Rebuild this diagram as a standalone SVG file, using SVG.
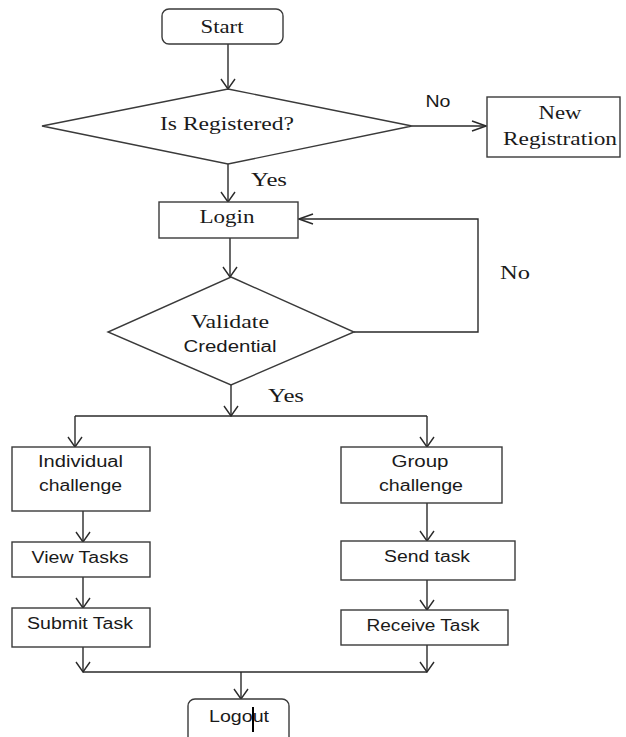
<svg xmlns="http://www.w3.org/2000/svg" width="626" height="737" viewBox="0 0 626 737">
<style>
.box{fill:#fff;stroke:#3a3a3a;stroke-width:1.4}
.ln{fill:none;stroke:#2a2a2a;stroke-width:1.4}
.serif{font-family:"Liberation Serif","Times New Roman",serif;font-size:19px;fill:#1a1a1a;text-anchor:middle}
.sans{font-family:"Liberation Sans",Arial,sans-serif;font-size:16px;fill:#1a1a1a;text-anchor:middle}
</style>
<defs>
<marker id="av" markerUnits="userSpaceOnUse" viewBox="-11 -8 12 16" refX="0" refY="0" markerWidth="12" markerHeight="16" orient="auto">
<path d="M-10,-7 L0,0 L-10,7" fill="none" stroke="#2a2a2a" stroke-width="1.4"/>
</marker>
<marker id="ah" markerUnits="userSpaceOnUse" viewBox="-15 -7 16 14" refX="0" refY="0" markerWidth="16" markerHeight="14" orient="auto">
<path d="M-14,-5 L0,0 L-14,5" fill="none" stroke="#2a2a2a" stroke-width="1.4"/>
</marker>
</defs>
<rect width="626" height="737" fill="#fff"/>
<g id="connectors">
<line class="ln" x1="228" y1="44" x2="228" y2="89" marker-end="url(#av)"/>
<line class="ln" x1="412" y1="126" x2="486" y2="126" marker-end="url(#ah)"/>
<line class="ln" x1="228" y1="164" x2="228" y2="202" marker-end="url(#av)"/>
<line class="ln" x1="230" y1="238" x2="230" y2="277" marker-end="url(#av)"/>
<polyline class="ln" points="354,332 478,332 478,219 299,219" marker-end="url(#ah)"/>
<line class="ln" x1="231" y1="385" x2="231" y2="416" marker-end="url(#av)"/>
<line class="ln" x1="75" y1="416" x2="427" y2="416"/>
<line class="ln" x1="75" y1="416" x2="75" y2="447" marker-end="url(#av)"/>
<line class="ln" x1="427" y1="416" x2="427" y2="447" marker-end="url(#av)"/>
<line class="ln" x1="83" y1="511" x2="83" y2="542" marker-end="url(#av)"/>
<line class="ln" x1="83" y1="577" x2="83" y2="608" marker-end="url(#av)"/>
<line class="ln" x1="427" y1="503" x2="427" y2="541" marker-end="url(#av)"/>
<line class="ln" x1="427" y1="580" x2="427" y2="610" marker-end="url(#av)"/>
<line class="ln" x1="83" y1="647" x2="83" y2="672" marker-end="url(#av)"/>
<line class="ln" x1="427" y1="645" x2="427" y2="672" marker-end="url(#av)"/>
<line class="ln" x1="83" y1="672" x2="427" y2="672"/>
<line class="ln" x1="241" y1="672" x2="241" y2="699" marker-end="url(#av)"/>
<text class="sans" x="438" y="107" font-size="15" textLength="25" lengthAdjust="spacingAndGlyphs">No</text>
<text class="serif" x="269" y="186" textLength="36" lengthAdjust="spacingAndGlyphs">Yes</text>
<text class="serif" x="515" y="279" textLength="30" lengthAdjust="spacingAndGlyphs">No</text>
<text class="serif" x="286" y="402" textLength="36" lengthAdjust="spacingAndGlyphs">Yes</text>
</g>
<g id="start">
<rect class="box" x="162" y="9" width="121" height="35" rx="7"/>
<text class="serif" x="222" y="33" textLength="43" lengthAdjust="spacingAndGlyphs">Start</text>
</g>
<g id="is-registered">
<polygon class="box" points="228,89 412,126 228,164 42,126"/>
<text class="serif" x="227" y="130" textLength="134" lengthAdjust="spacingAndGlyphs">Is Registered?</text>
</g>
<g id="new-registration">
<rect class="box" x="487" y="97" width="133" height="60"/>
<text class="serif" x="560" y="119" textLength="43" lengthAdjust="spacingAndGlyphs">New</text>
<text class="serif" x="560" y="145" textLength="114" lengthAdjust="spacingAndGlyphs">Registration</text>
</g>
<g id="login">
<rect class="box" x="159" y="202" width="139" height="36"/>
<text class="serif" x="227" y="223" textLength="55" lengthAdjust="spacingAndGlyphs">Login</text>
</g>
<g id="validate">
<polygon class="box" points="231,277 354,332 231,385 108,332"/>
<text class="serif" x="230" y="328" textLength="78" lengthAdjust="spacingAndGlyphs">Validate</text>
<text class="sans" x="230" y="352" textLength="93" lengthAdjust="spacingAndGlyphs">Credential</text>
</g>
<g id="individual">
<rect class="box" x="12" y="447" width="138" height="64"/>
<text class="sans" x="80.5" y="467" textLength="85" lengthAdjust="spacingAndGlyphs">Individual</text>
<text class="sans" x="80.5" y="491" textLength="83" lengthAdjust="spacingAndGlyphs">challenge</text>
</g>
<g id="group">
<rect class="box" x="341" y="447" width="161" height="56"/>
<text class="sans" x="420" y="467" textLength="57" lengthAdjust="spacingAndGlyphs">Group</text>
<text class="sans" x="421" y="491" textLength="84" lengthAdjust="spacingAndGlyphs">challenge</text>
</g>
<g id="view-tasks">
<rect class="box" x="12" y="542" width="138" height="35"/>
<text class="sans" x="80" y="563" textLength="97" lengthAdjust="spacingAndGlyphs">View Tasks</text>
</g>
<g id="submit-task">
<rect class="box" x="12" y="608" width="138" height="39"/>
<text class="sans" x="80" y="629" textLength="106" lengthAdjust="spacingAndGlyphs">Submit Task</text>
</g>
<g id="send-task">
<rect class="box" x="341" y="541" width="174" height="39"/>
<text class="sans" x="427" y="562" textLength="86" lengthAdjust="spacingAndGlyphs">Send task</text>
</g>
<g id="receive-task">
<rect class="box" x="341" y="610" width="167" height="35"/>
<text class="sans" x="423" y="631" textLength="113" lengthAdjust="spacingAndGlyphs">Receive Task</text>
</g>
<g id="logout">
<rect class="box" x="188" y="699" width="101" height="50" rx="7"/>
<text class="sans" x="239" y="722" textLength="60" lengthAdjust="spacingAndGlyphs">Logout</text>
<line x1="253" y1="707" x2="253" y2="732" stroke="#000" stroke-width="2"/>
</g>
</svg>
